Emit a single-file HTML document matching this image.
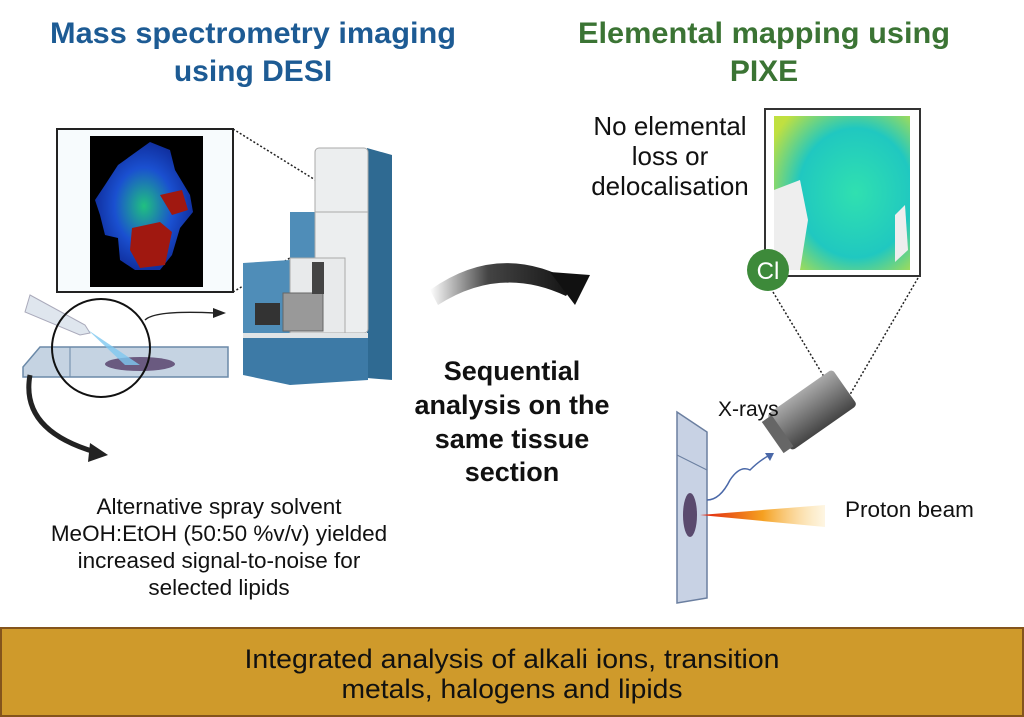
<!DOCTYPE html>
<html><head><meta charset="utf-8"><style>
html,body{margin:0;padding:0;background:#fff}
svg{display:block}
text{font-family:"Liberation Sans",sans-serif}
</style></head><body>
<svg width="1024" height="717" viewBox="0 0 1024 717" xmlns="http://www.w3.org/2000/svg">
<defs>
<linearGradient id="arr" x1="0" y1="0" x2="1" y2="0"><stop offset="0" stop-color="#fff"/><stop offset="0.4" stop-color="#444"/><stop offset="1" stop-color="#111"/></linearGradient>
<linearGradient id="beam" x1="0" y1="0" x2="1" y2="0"><stop offset="0" stop-color="#e02010"/><stop offset="0.5" stop-color="#f5a020"/><stop offset="1" stop-color="#fbe0a0" stop-opacity="0.3"/></linearGradient>
<linearGradient id="cyl" x1="0" y1="0" x2="0" y2="1"><stop offset="0" stop-color="#aaa"/><stop offset="0.5" stop-color="#777"/><stop offset="1" stop-color="#444"/></linearGradient>
<radialGradient id="msi" cx="0.5" cy="0.5" r="0.5"><stop offset="0" stop-color="#20c080"/><stop offset="0.6" stop-color="#1a50d0"/><stop offset="1" stop-color="#1030a0"/></radialGradient>
<radialGradient id="pixe" cx="0.6" cy="0.5" r="0.7"><stop offset="0" stop-color="#30e0b0"/><stop offset="0.6" stop-color="#20c8c0"/><stop offset="1" stop-color="#c0e040"/></radialGradient>
</defs>

<g font-weight="bold" text-anchor="middle">
<text x="253" y="43" fill="#1d5b94" font-size="30" textLength="406" lengthAdjust="spacingAndGlyphs">Mass spectrometry imaging</text>
<text x="253" y="81" fill="#1d5b94" font-size="30">using DESI</text>
<text x="764" y="43" fill="#3b7434" font-size="30" textLength="372" lengthAdjust="spacingAndGlyphs">Elemental mapping using</text>
<text x="764" y="81" fill="#3b7434" font-size="30">PIXE</text>
</g>

<rect x="57" y="129" width="176" height="163" fill="#f7fbfd" stroke="#222" stroke-width="2"/>
<rect x="90" y="136" width="113" height="151" fill="#000"/>
<path d="M118 165 L150 142 L170 150 L175 170 L190 195 L193 212 L180 228 L172 255 L160 270 L135 270 L120 260 L118 238 L105 235 L100 215 L95 200 L105 185 Z" fill="url(#msi)"/>
<path d="M132 228 L160 222 L172 232 L165 265 L140 268 L130 250 Z" fill="#a01810"/>
<path d="M160 195 L182 190 L188 210 L172 215 Z" fill="#a01810"/>
<line x1="233" y1="129" x2="367" y2="212" stroke="#222" stroke-width="1.5" stroke-dasharray="2,2"/>
<line x1="233" y1="292" x2="367" y2="212" stroke="#222" stroke-width="1.5" stroke-dasharray="2,2"/>

<path d="M367 148 L392 155 L392 380 L367 378 Z" fill="#2f6a92"/>
<rect x="290" y="212" width="30" height="55" fill="#4f8db8"/>
<rect x="315" y="148" width="53" height="185" rx="4" fill="#eceeef" stroke="#aaa"/>
<line x1="315" y1="212" x2="368" y2="212" stroke="#aaa"/>
<path d="M243 263 L290 260 L290 370 L243 360 Z" fill="#4f8db8"/>
<rect x="290" y="258" width="55" height="75" fill="#e8eaeb" stroke="#aaa"/>
<rect x="283" y="293" width="40" height="38" fill="#999" stroke="#666"/>
<rect x="312" y="262" width="12" height="32" fill="#444"/>
<rect x="255" y="303" width="25" height="22" fill="#333"/>
<path d="M243 335 L368 335 L368 380 L290 385 L243 375 Z" fill="#3d7aa6"/>
<rect x="243" y="333" width="125" height="5" fill="#e0e4e6"/>

<path d="M23 367 L40 347 L228 347 L228 377 L23 377 Z" fill="#c5d3e2" stroke="#6b89a8" stroke-width="1.5"/>
<line x1="70" y1="347" x2="70" y2="377" stroke="#6b89a8"/>
<ellipse cx="140" cy="364" rx="35" ry="7" fill="#6a5a80"/>
<path d="M30 295 L85 325 L90 333 L80 335 L25 312 Z" fill="#dfe6ee" stroke="#aab"/>
<path d="M88 330 L125 365 L140 365 Z" fill="#7ec8f0" opacity="0.8"/>
<circle cx="101" cy="348" r="49" fill="none" stroke="#111" stroke-width="2"/>
<path d="M145 320 Q155 310 215 313" fill="none" stroke="#222" stroke-width="1.5"/>
<path d="M226 313 L213 308 L213 318 Z" fill="#222"/>
<path d="M30 375 Q20 430 95 452" fill="none" stroke="#222" stroke-width="5"/>
<path d="M108 455 L90 443 L88 462 Z" fill="#222"/>

<path d="M430 290 Q500 240 575 283 L566 296 Q500 265 438 305 Z" fill="url(#arr)"/>
<path d="M590 275 L550 272 L575 305 Z" fill="#111"/>
<g font-weight="bold" font-size="27" text-anchor="middle" fill="#111">
<text x="512" y="380">Sequential</text>
<text x="512" y="414">analysis on the</text>
<text x="512" y="448">same tissue</text>
<text x="512" y="481">section</text>
</g>

<g font-size="22.5" text-anchor="middle" fill="#111">
<text x="219" y="514">Alternative spray solvent</text>
<text x="219" y="541">MeOH:EtOH (50:50 %v/v) yielded</text>
<text x="219" y="568">increased signal-to-noise for</text>
<text x="219" y="595">selected lipids</text>
</g>

<g font-size="26" text-anchor="middle" fill="#111">
<text x="670" y="135">No elemental</text>
<text x="670" y="165">loss or</text>
<text x="670" y="195">delocalisation</text>
</g>
<rect x="765" y="109" width="155" height="167" fill="#fff" stroke="#333" stroke-width="2"/>
<rect x="774" y="116" width="136" height="154" fill="url(#pixe)"/>
<path d="M774 190 L800 180 L808 220 L800 270 L774 270 Z" fill="#eee"/>
<path d="M895 215 L905 205 L908 250 L895 262 Z" fill="#eee"/>
<circle cx="768" cy="270" r="21" fill="#3d8a3a"/>
<text x="768" y="279" font-size="24" fill="#fff" text-anchor="middle">Cl</text>
<line x1="773" y1="292" x2="838" y2="400" stroke="#222" stroke-width="1.5" stroke-dasharray="2,2"/>
<line x1="918" y1="278" x2="848" y2="398" stroke="#222" stroke-width="1.5" stroke-dasharray="2,2"/>
<g transform="translate(812,410) rotate(-35)">
<rect x="-40" y="-22" width="80" height="44" rx="4" fill="url(#cyl)"/>
<rect x="-48" y="-19" width="12" height="38" fill="#666"/>
</g>
<text x="718" y="416" font-size="21" fill="#111">X-rays</text>
<path d="M677 412 L707 432 L707 598 L677 603 Z" fill="#c8d2e4" stroke="#6b7fa0" stroke-width="1.5"/>
<line x1="677" y1="455" x2="707" y2="470" stroke="#6b7fa0"/>
<ellipse cx="690" cy="515" rx="7" ry="22" fill="#5a4a6e"/>
<path d="M700 515 L825 505 L825 527 Z" fill="url(#beam)"/>
<path d="M707 500 Q720 500 730 480 Q740 465 750 470 Q760 460 770 455" fill="none" stroke="#4a68a8" stroke-width="1.5"/>
<path d="M774 453 L765 453 L770 461 Z" fill="#4a68a8"/>
<text x="845" y="517" font-size="22.5" fill="#111">Proton beam</text>

<rect x="1" y="628" width="1022" height="88" fill="#cf9a2b" stroke="#84541c" stroke-width="2"/>
<g font-size="27" text-anchor="middle" fill="#111">
<text x="512" y="668" textLength="535" lengthAdjust="spacingAndGlyphs">Integrated analysis of alkali ions, transition</text>
<text x="512" y="698" textLength="341" lengthAdjust="spacingAndGlyphs">metals, halogens and lipids</text>
</g>
</svg>
</body></html>
